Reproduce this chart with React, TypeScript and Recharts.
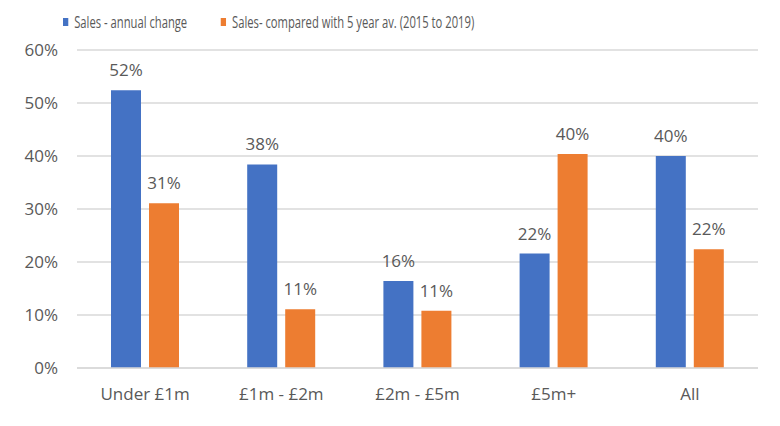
import React from "react";
import { BarChart, Bar, XAxis, YAxis, CartesianGrid, LabelList } from "recharts";

const categories = ["Under £1m", "£1m - £2m", "£2m - £5m", "£5m+", "All"];
const annualChange = [52.4, 38.4, 16.4, 21.6, 40.0];
const fiveYearAvg = [31.1, 11.1, 10.8, 40.4, 22.4];
const yTicks = [0, 10, 20, 30, 40, 50, 60];

const seriesNames = ["Sales - annual change", "Sales- compared with 5 year av. (2015 to 2019)"];
const BLUE = "#4472C4";
const ORANGE = "#ED7D31";
const GREY = "#595959";
const FONT = "'Open Sans', sans-serif";

const data = categories.map((name, i) => ({
  name,
  annual: annualChange[i],
  fiveYear: fiveYearAvg[i],
}));

const pct = (v: any) => `${Math.round(Number(v))}%`;

function ChartLegend() {
  const items = [
    { label: seriesNames[0], color: BLUE },
    { label: seriesNames[1], color: ORANGE },
  ];
  return (
    <div
      style={{
        position: "absolute",
        left: 63,
        top: 10,
        display: "flex",
        alignItems: "center",
        transform: "scaleX(0.66)",
        transformOrigin: "left center",
        whiteSpace: "nowrap",
        fontFamily: FONT,
        fontSize: 17,
        color: GREY,
      }}
    >
      {items.map((it, i) => (
        <div key={i} style={{ display: "flex", alignItems: "center", marginRight: 51 }}>
          <div style={{ width: 8, height: 8, background: it.color, marginRight: 9 }} />
          <span>{it.label}</span>
        </div>
      ))}
    </div>
  );
}

export default function App() {
  return (
    <div
      style={{
        position: "absolute",
        left: 0,
        top: 0,
        width: 780,
        height: 426,
        background: "#fff",
        fontFamily: FONT,
      }}
    >
      <ChartLegend />
      <BarChart
        width={780}
        height={426}
        data={data}
        margin={{ top: 50, right: 22, bottom: 0, left: 0 }}
        barSize={30}
        barGap={8}
      >
        <CartesianGrid vertical={false} stroke="#d9d9d9" strokeWidth={1.5} />
        <XAxis
          dataKey="name"
          height={58}
          tickLine={false}
          tickSize={0}
          tickMargin={20}
          axisLine={{ stroke: "#d9d9d9", strokeWidth: 1.5 }}
          tick={{ fill: GREY, fontSize: 17, fontFamily: FONT }}
        />
        <YAxis
          width={77}
          domain={[0, 60]}
          ticks={yTicks}
          tickFormatter={(v) => `${v}%`}
          axisLine={false}
          tickLine={false}
          tickSize={0}
          tickMargin={19}
          tick={{ fill: GREY, fontSize: 17, fontFamily: FONT }}
        />
        <Bar dataKey="annual" fill={BLUE} isAnimationActive={false}>
          <LabelList
            dataKey="annual"
            position="top"
            offset={14}
            formatter={pct}
            style={{ fill: GREY, fontSize: 17, fontFamily: FONT }}
          />
        </Bar>
        <Bar dataKey="fiveYear" fill={ORANGE} isAnimationActive={false}>
          <LabelList
            dataKey="fiveYear"
            position="top"
            offset={14}
            formatter={pct}
            style={{ fill: GREY, fontSize: 17, fontFamily: FONT }}
          />
        </Bar>
      </BarChart>
    </div>
  );
}
